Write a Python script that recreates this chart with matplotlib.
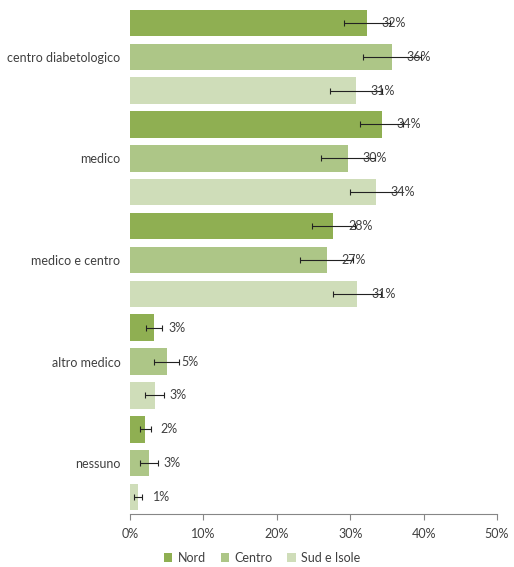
import matplotlib.pyplot as plt
import numpy as np

plt.rcParams['font.family'] = ['Lato', 'DejaVu Sans']

categorie = ['centro diabetologico', 'medico', 'medico e centro', 'altro medico', 'nessuno']
serie = ['Nord', 'Centro', 'Sud e Isole']
colori = ['#8faf52', '#adc687', '#cfddb9']

# percentuali (Nord, Centro, Sud e Isole)
nord = [32.3, 34.3, 27.7, 3.3, 2.1]
centro = [35.7, 29.7, 26.8, 5.0, 2.6]
sud = [30.8, 33.5, 30.9, 3.4, 1.1]
etichette_nord = ['32%', '34%', '28%', '3%', '2%']
etichette_centro = ['36%', '30%', '27%', '5%', '3%']
etichette_sud = ['31%', '34%', '31%', '3%', '1%']
# semi-ampiezza degli intervalli di confidenza
err_nord = [3.1, 2.9, 2.9, 1.1, 0.75]
err_centro = [4.0, 3.7, 3.6, 1.7, 1.2]
err_sud = [3.6, 3.5, 3.3, 1.3, 0.55]

valori = [nord, centro, sud]
errori = [err_nord, err_centro, err_sud]
etichette = [etichette_nord, etichette_centro, etichette_sud]

fig = plt.figure(figsize=(5.14, 5.67), dpi=100)
ax = fig.add_axes([0.2529, 0.0935, 0.714, 0.896])

n = len(categorie)
for j in range(3):
    pos = np.arange(n) * 3 + j
    ax.barh(pos, valori[j], height=0.78, color=colori[j], label=serie[j],
            xerr=errori[j], error_kw=dict(ecolor='#222222', elinewidth=0.8,
                                          capsize=2.5, capthick=0.8))
    for p, v, t in zip(pos, valori[j], etichette[j]):
        ax.text(v + 2.0, p, t, va='center', ha='left', fontsize=9, color='#404040')

ax.set_ylim(3 * n - 0.5, -0.5)
ax.set_xlim(0, 50)
ax.set_yticks(np.arange(n) * 3 + 1)
ax.set_yticklabels(categorie, fontsize=9, color='#404040')
ax.tick_params(axis='y', length=0, pad=7)
ax.set_xticks(range(0, 51, 10))
ax.set_xticklabels(['%d%%' % v for v in range(0, 51, 10)], fontsize=9, color='#404040')
ax.tick_params(axis='x', direction='out', length=4, color='#868686', pad=6)

for s in ['top', 'right', 'left']:
    ax.spines[s].set_visible(False)
ax.spines['bottom'].set_color('#868686')
ax.spines['bottom'].set_linewidth(0.8)

ax.legend(loc='center', bbox_to_anchor=(0.36, -0.087), ncol=3, frameon=False,
          fontsize=9, handlelength=0.7, handleheight=0.7, handletextpad=0.4,
          columnspacing=1.2, labelcolor='#404040')

fig.savefig('out.png', dpi=100)
